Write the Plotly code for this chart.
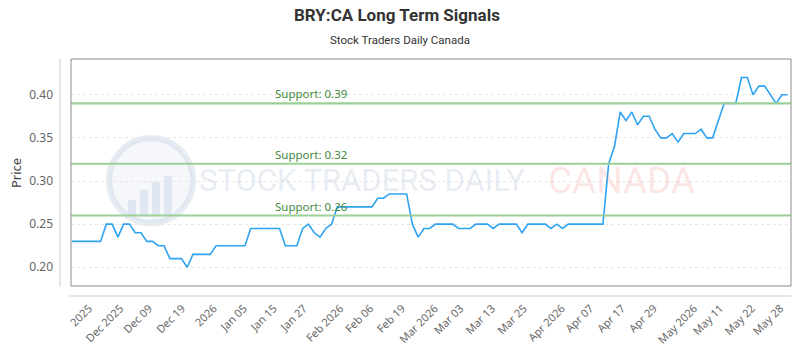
import plotly.graph_objects as go

# ---- data -------------------------------------------------------------
prices = [
    0.23, 0.23, 0.23, 0.23, 0.23, 0.23, 0.25, 0.25, 0.235, 0.25,
    0.25, 0.24, 0.24, 0.23, 0.23, 0.225, 0.225, 0.21, 0.21, 0.21,
    0.20, 0.215, 0.215, 0.215, 0.215, 0.225, 0.225, 0.225, 0.225, 0.225,
    0.225, 0.245, 0.245, 0.245, 0.245, 0.245, 0.245, 0.225, 0.225, 0.225,
    0.245, 0.25, 0.24, 0.235, 0.245, 0.25, 0.27, 0.27, 0.27, 0.27,
    0.27, 0.27, 0.27, 0.28, 0.28, 0.285, 0.285, 0.285, 0.285, 0.25,
    0.235, 0.245, 0.245, 0.25, 0.25, 0.25, 0.25, 0.245, 0.245, 0.245,
    0.25, 0.25, 0.25, 0.245, 0.25, 0.25, 0.25, 0.25, 0.24, 0.25,
    0.25, 0.25, 0.25, 0.245, 0.25, 0.245, 0.25, 0.25, 0.25, 0.25,
    0.25, 0.25, 0.25, 0.32, 0.34, 0.38, 0.37, 0.38, 0.365, 0.375,
    0.375, 0.36, 0.35, 0.35, 0.355, 0.345, 0.355, 0.355, 0.355, 0.36,
    0.35, 0.35, 0.37, 0.39, 0.39, 0.39, 0.42, 0.42, 0.40, 0.41,
    0.41, 0.40, 0.39, 0.40, 0.40,
]
point_index = list(range(len(prices)))

tick_labels = ["2025", "Dec 2025", "Dec 09", "Dec 19", "2026", "Jan 05", "Jan 15",
               "Jan 27", "Feb 2026", "Feb 06", "Feb 19", "Mar 2026", "Mar 03",
               "Mar 13", "Mar 25", "Apr 2026", "Apr 07", "Apr 17", "Apr 29",
               "May 2026", "May 11", "May 22", "May 28"]
tick_positions = [3.0, 8.4, 13.4, 19.1, 24.6, 29.8, 35.0, 40.2, 46.5, 51.7, 57.2,
                  62.9, 67.3, 72.8, 78.3, 84.9, 89.8, 95.3, 100.8, 107.8, 112.3,
                  117.8, 122.7]

support_levels = [0.39, 0.32, 0.26]
support_labels = ["Support: 0.39", "Support: 0.32", "Support: 0.26"]

y_ticks = [0.20, 0.25, 0.30, 0.35, 0.40]
y_tick_text = ["0.20", "0.25", "0.30", "0.35", "0.40"]

# ---- figure -----------------------------------------------------------
fig = go.Figure()

fig.add_trace(go.Scatter(
    x=point_index, y=prices, mode="lines",
    line=dict(color="#2ea3f2", width=1.6),
    hoverinfo="skip", showlegend=False,
))

shapes = []
annotations = []

# support lines
for lvl, lab in zip(support_levels, support_labels):
    shapes.append(dict(type="line", xref="x domain", yref="y", x0=0, x1=1,
                       y0=lvl, y1=lvl, line=dict(color="#9ccf96", width=2.2),
                       layer="above"))
    annotations.append(dict(text=lab, xref="x domain", yref="y", x=0.281, y=lvl,
                            xanchor="left", yanchor="bottom", yshift=0,
                            showarrow=False,
                            font=dict(family="Noto Sans", size=11.5, color="#3e8a3e")))

# plot frame
shapes.append(dict(type="rect", xref="paper", yref="paper", x0=0, x1=1, y0=0, y1=1,
                   line=dict(color="#8c8c8c", width=1), layer="above"))
# offset axis lines
shapes.append(dict(type="line", xref="paper", yref="paper", x0=-0.0153, x1=-0.0153,
                   y0=-0.004, y1=1.0, line=dict(color="#cccccc", width=1)))
shapes.append(dict(type="line", xref="paper", yref="paper", x0=-0.002, x1=1.0,
                   y0=-0.044, y1=-0.044, line=dict(color="#cccccc", width=1)))

# watermark logo (approximate)
shapes.append(dict(type="circle", xref="paper", yref="paper",
                   x0=(109 - 71) / 720, x1=(193 - 71) / 720,
                   y0=(286 - 223) / 227, y1=(286 - 138) / 227,
                   line=dict(color="rgba(185,200,222,0.35)", width=6),
                   fillcolor="rgba(215,225,238,0.25)", layer="below"))
for bx0, bx1, btop in [(128, 136, 200), (140, 148, 190), (152, 160, 182), (164, 172, 176)]:
    shapes.append(dict(type="rect", xref="paper", yref="paper",
                       x0=(bx0 - 71) / 720, x1=(bx1 - 71) / 720,
                       y0=(286 - 216) / 227, y1=(286 - btop) / 227,
                       line=dict(width=0), fillcolor="rgba(185,200,222,0.35)",
                       layer="below"))

annotations.append(dict(text="STOCK TRADERS DAILY", xref="paper", yref="paper",
                        x=(362 - 71) / 720, y=(286 - 180) / 227, showarrow=False,
                        xanchor="center", yanchor="middle",
                        font=dict(family="Roboto", size=31,
                                  color="rgba(190,203,222,0.34)")))
annotations.append(dict(text="CANADA", xref="paper", yref="paper",
                        x=(621 - 71) / 720, y=(286 - 180) / 227, showarrow=False,
                        xanchor="center", yanchor="middle",
                        font=dict(family="Roboto", size=37,
                                  color="rgba(245,140,140,0.22)")))

# titles
annotations.append(dict(text="<b>BRY:CA Long Term Signals</b>", xref="paper", yref="paper",
                        x=(397 - 71) / 720, y=(286 - 15) / 227, showarrow=False,
                        xanchor="center", yanchor="middle",
                        font=dict(family="Roboto", size=17, color="#333333")))
annotations.append(dict(text="Stock Traders Daily Canada", xref="paper", yref="paper",
                        x=(400 - 71) / 720, y=(286 - 40) / 227, showarrow=False,
                        xanchor="center", yanchor="middle",
                        font=dict(family="Roboto", size=11.5, color="#333333")))
annotations.append(dict(text="Price", xref="paper", yref="paper",
                        x=(16 - 71) / 720, y=(286 - 173) / 227, showarrow=False,
                        textangle=-90, xanchor="center", yanchor="middle",
                        font=dict(family="Noto Sans", size=13, color="#444444")))

fig.update_layout(
    width=800, height=350,
    margin=dict(l=71, r=9, t=59, b=64),
    paper_bgcolor="white", plot_bgcolor="white",
    shapes=shapes, annotations=annotations,
    xaxis=dict(
        range=[-0.12, 124.57], showgrid=False, zeroline=False, showline=False,
        automargin=False,
        tickmode="array", tickvals=tick_positions, ticktext=tick_labels,
        tickangle=-45, ticks="", ticklabelstandoff=13,
        tickfont=dict(family="Noto Sans", size=11, color="#666666"),
    ),
    yaxis=dict(
        range=[0.1783, 0.4414], zeroline=False, showline=False,
        automargin=False,
        tickmode="array", tickvals=y_ticks, ticktext=y_tick_text,
        showgrid=True, gridcolor="#e6e6e6", griddash="3px,3px", gridwidth=1,
        ticks="", ticklabelstandoff=17,
        tickfont=dict(family="Noto Sans", size=12, color="#666666"),
    ),
)

fig.write_html("out.html")
